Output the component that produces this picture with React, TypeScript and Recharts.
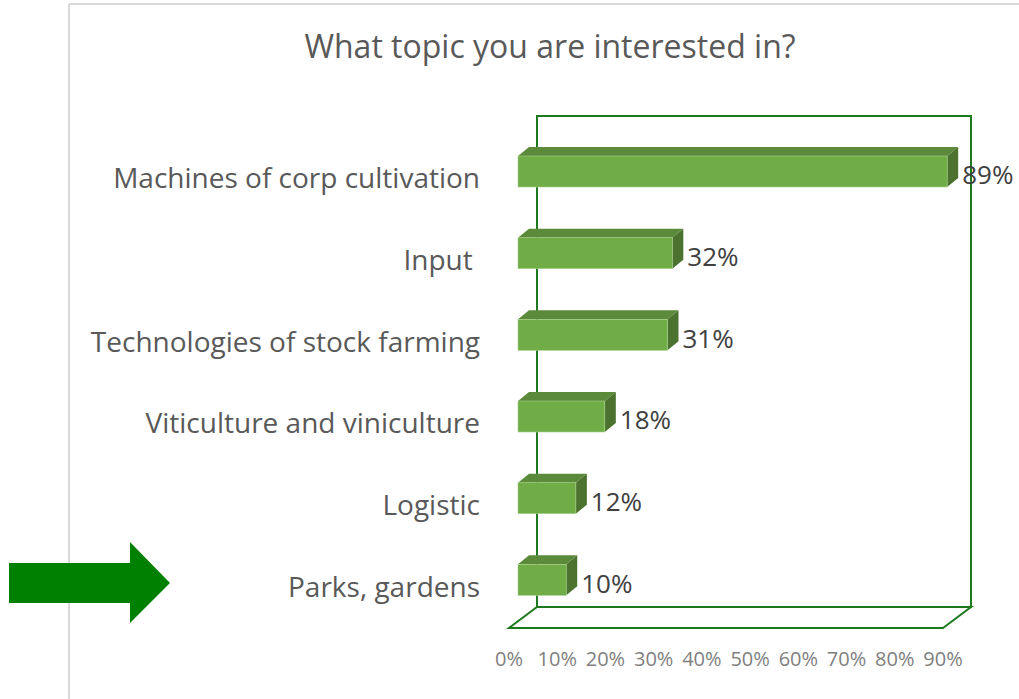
import { BarChart, Bar, XAxis, YAxis, LabelList, Customized } from 'recharts';

const categories = [
  'Machines of corp cultivation',
  'Input ',
  'Technologies of stock farming',
  'Viticulture and viniculture',
  'Logistic',
  'Parks, gardens',
];
const shares = [0.89, 0.32, 0.31, 0.18, 0.12, 0.1];
const xTicks = [0, 0.1, 0.2, 0.3, 0.4, 0.5, 0.6, 0.7, 0.8, 0.9];
const title = 'What topic you are interested in?';

const chartData = categories.map((name, i) => ({ name, share: shares[i] }));

const FONT = '"Open Sans", sans-serif';
// bar depth (3D look)
const DX = 11;
const DY = -9;

function Bar3D(props: any) {
  const { x, y, width, height } = props;
  const top = `${x},${y} ${x + DX},${y + DY} ${x + width + DX},${y + DY} ${x + width},${y}`;
  const side = `${x + width},${y} ${x + width + DX},${y + DY} ${x + width + DX},${y + height + DY} ${x + width},${y + height}`;
  return (
    <g>
      <polygon points={top} fill="#5b8a3a" />
      <polygon points={side} fill="#4b732f" />
      <rect x={x} y={y} width={width} height={height} fill="#70ad47" stroke="#a9d18e" strokeWidth={0.6} />
    </g>
  );
}

function Decor() {
  return (
    <g>
      {/* outer light border */}
      <line x1={69} y1={4} x2={1019} y2={4} stroke="#d9d9d9" strokeWidth={2} />
      <line x1={69} y1={4} x2={69} y2={699} stroke="#d9d9d9" strokeWidth={2} />
      <text x={550} y={49} textAnchor="middle" dominantBaseline="middle" fontSize={32} fill="#595959" fontFamily={FONT}>
        {title}
      </text>
      {/* back wall */}
      <rect x={537} y={116} width={434} height={491} fill="none" stroke="#1f7a1f" strokeWidth={2} />
      {/* floor */}
      <polygon points="509,628 943,628 971,607 537,607" fill="none" stroke="#1f7a1f" strokeWidth={2} />
      {/* arrow */}
      <polygon points="9,563 130,563 130,542 170,583 130,623 130,603 9,603" fill="#008000" />
    </g>
  );
}

function CategoryTick(props: any) {
  const { y, payload } = props;
  return (
    <text
      x={480}
      y={y + 9}
      textAnchor="end"
      dominantBaseline="middle"
      fontSize={28}
      fill="#595959"
      fontFamily={FONT}
      style={{ whiteSpace: 'pre' }}
    >
      {payload.value}
    </text>
  );
}

function PercentTick(props: any) {
  const { x, payload } = props;
  return (
    <text x={x - 9} y={661} textAnchor="middle" dominantBaseline="middle" fontSize={20} fill="#7f7f7f" fontFamily={FONT}>
      {`${Math.round(payload.value * 100)}%`}
    </text>
  );
}

function ValueLabel(props: any) {
  const { x, y, width, height, value } = props;
  return (
    <text x={x + width + DX + 4} y={y + height / 2 + 6} dominantBaseline="middle" fontSize={26} fill="#404040" fontFamily={FONT}>
      {`${Math.round(value * 100)}%`}
    </text>
  );
}

export default function App() {
  return (
    <div style={{ position: 'absolute', left: 0, top: 0, width: 1019, height: 699, background: '#fff' }}>
      <BarChart
        width={1019}
        height={699}
        data={chartData}
        layout="vertical"
        margin={{ top: 131, right: 67, bottom: 0, left: 0 }}
        barCategoryGap={0}
        style={{ fontFamily: FONT }}
      >
        <Customized component={<Decor />} />
        <XAxis
          type="number"
          domain={[0, 0.9]}
          ticks={xTicks}
          height={78}
          axisLine={false}
          tickLine={false}
          tick={<PercentTick />}
          interval={0}
        />
        <YAxis
          type="category"
          dataKey="name"
          width={518}
          axisLine={false}
          tickLine={false}
          tick={<CategoryTick />}
          interval={0}
        />
        <Bar dataKey="share" barSize={31} shape={<Bar3D />} isAnimationActive={false}>
          <LabelList dataKey="share" content={<ValueLabel />} />
        </Bar>
      </BarChart>
    </div>
  );
}
